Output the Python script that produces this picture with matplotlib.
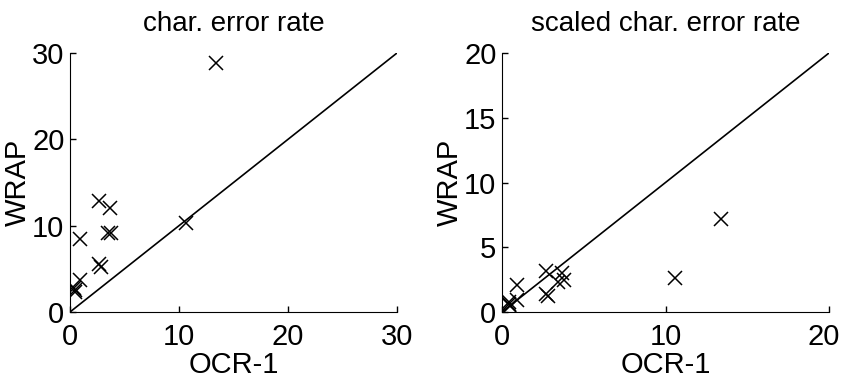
import numpy as np
import matplotlib
matplotlib.use('Agg')
import matplotlib.pyplot as plt
import matplotlib.transforms as mtransforms

plt.rcParams.update({'font.family': 'Liberation Sans', 'font.size': 21})

# OCR-1 error rates vs WRAP error rates
ocr1 = [13.4, 10.6, 2.7, 3.7, 3.45, 3.8, 2.7, 2.8, 0.9, 0.9, 0.4, 0.5, 0.45]
wrap_cer = [28.8, 10.3, 12.8, 12.1, 9.2, 9.2, 5.6, 5.2, 8.4, 3.75, 2.8, 2.3, 2.6]
wrap_scaled = [7.2, 2.6, 3.2, 3.0, 2.3, 2.45, 1.4, 1.2, 2.06, 0.9, 0.8, 0.5, 0.6]

titles = ['char. error rate', 'scaled char. error rate']
limits = [30, 20]
ticks = [[0, 10, 20, 30], [0, 5, 10, 15, 20]]
xticks = [[0, 10, 20, 30], [0, 10, 20]]

fig = plt.figure(figsize=(8.43, 3.79), dpi=100)
ax1 = fig.add_axes([70/843, 67/379, 327/843, 259/379])
ax2 = fig.add_axes([502/843, 67/379, 327/843, 259/379])

for ax, y, t, lim, yt, xt in zip([ax1, ax2], [wrap_cer, wrap_scaled], titles, limits, ticks, xticks):
    ax.plot([0, lim], [0, lim], 'k-', lw=1.2)
    ax.plot(ocr1, y, 'kx', ms=10, mew=1.1)
    ax.set_xlim(0, lim)
    ax.set_ylim(0, lim)
    ax.set_xticks(xt)
    ax.set_yticks(yt)
    ax.spines['top'].set_visible(False)
    ax.spines['right'].set_visible(False)
    ax.tick_params(direction='in', length=4, width=1, labelsize=21)
    ax.tick_params(axis='x', pad=8)
    ax.tick_params(axis='y', pad=4)
    ax.set_title(t, fontsize=20, pad=16)
    ax.set_xlabel('OCR-1', fontsize=21, labelpad=0)
    ax.set_ylabel('WRAP', fontsize=21, labelpad=0)

# nudge the right-most tick label so it stays inside the figure
lab = ax2.get_xticklabels()[-1]
lab.set_transform(lab.get_transform() + mtransforms.ScaledTranslation(-5/100, 0, fig.dpi_scale_trans))

fig.savefig('out.png', dpi=100)
